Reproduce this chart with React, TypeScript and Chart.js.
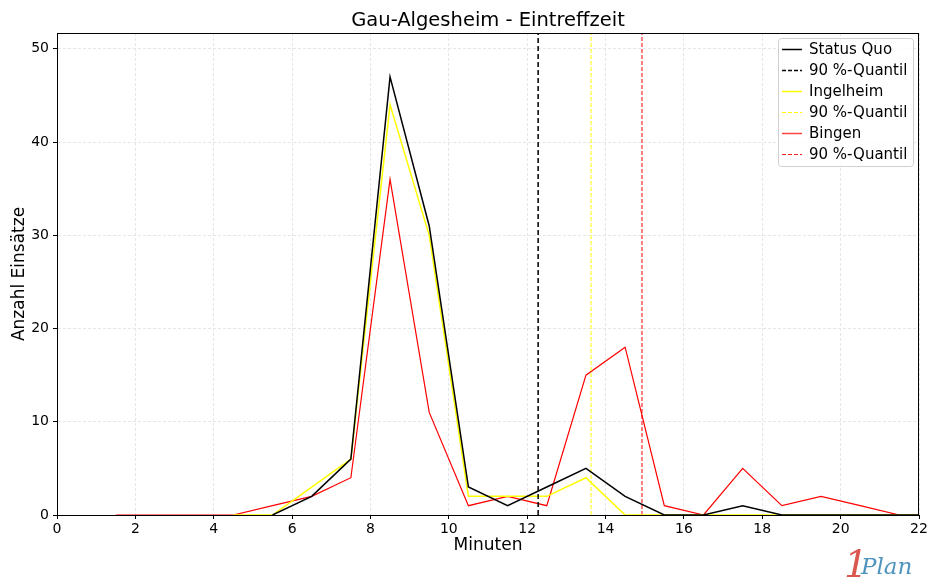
import React, { useEffect, useRef } from "react";
import { Chart, registerables } from "chart.js";

Chart.register(...registerables);

const minutes = [1.5, 2.5, 3.5, 4.5, 5.5, 6.5, 7.5, 8.5, 9.5, 10.5, 11.5, 12.5, 13.5, 14.5, 15.5, 16.5, 17.5, 18.5, 19.5, 20.5, 21.5, 22.5];
const statusQuo = [null, null, null, null, 0, 2, 6, 47, 31, 3, 1, 3, 5, 2, 0, 0, 1, 0, 0, 0, 0, 0];
const ingelheim = [null, null, null, 0, 0, 3, 6, 44, 30, 2, 2, 2, 4, 0, 0, 0, 0, 0, 0, 0, 0, 0];
const bingen = [0, 0, 0, 0, 1, 2, 4, 36, 11, 1, 2, 1, 15, 18, 1, 0, 5, 1, 2, 1, 0, 0];
const quantileStatusQuo = 12.28;
const quantileIngelheim = 13.63;
const quantileBingen = 14.93;
const xTicks = [0, 2, 4, 6, 8, 10, 12, 14, 16, 18, 20, 22];
const yTicks = [0, 10, 20, 30, 40, 50];
const yMax = 51.7;
const xMax = 22;

const FONT = '"DejaVu Sans", sans-serif';

const toPts = (ys: (number | null)[]) => minutes.map((x, i) => ({ x, y: ys[i] }));
const vline = (x: number) => [{ x, y: 0 }, { x, y: yMax }];

const legendItems = [
  { label: "Status Quo", color: "#000000", dash: [] as number[], width: 1.5 },
  { label: "90 %-Quantil", color: "#000000", dash: [4, 2], width: 1.5 },
  { label: "Ingelheim", color: "#ffff00", dash: [] as number[], width: 1.5 },
  { label: "90 %-Quantil", color: "#ffff00", dash: [4, 2], width: 1 },
  { label: "Bingen", color: "#ff4444", dash: [] as number[], width: 1.5 },
  { label: "90 %-Quantil", color: "#ff2222", dash: [4, 2], width: 1 },
];

const decorPlugin = {
  id: "decor",
  afterDraw(chart: any) {
    const { ctx, chartArea } = chart;
    const { left, right, top, bottom } = chartArea;
    ctx.save();
    // frame
    ctx.strokeStyle = "#000";
    ctx.lineWidth = 1;
    ctx.setLineDash([]);
    ctx.strokeRect(left + 0.5, top + 0.5, right - left - 1, bottom - top);
    // title
    ctx.fillStyle = "#000";
    ctx.textAlign = "center";
    ctx.textBaseline = "middle";
    ctx.font = `19.5px ${FONT}`;
    ctx.fillText("Gau-Algesheim - Eintreffzeit", (left + right) / 2, 21);
    // x label
    ctx.font = `17px ${FONT}`;
    ctx.fillText("Minuten", (left + right) / 2, 546);
    // y label
    ctx.save();
    ctx.translate(20, (top + bottom) / 2);
    ctx.rotate(-Math.PI / 2);
    ctx.fillText("Anzahl Einsätze", 0, 0);
    ctx.restore();
    // legend
    const lx = 778.5, ly = 38.5, lw = 135, lh = 128;
    ctx.beginPath();
    const r = 3;
    ctx.moveTo(lx + r, ly);
    ctx.lineTo(lx + lw - r, ly);
    ctx.quadraticCurveTo(lx + lw, ly, lx + lw, ly + r);
    ctx.lineTo(lx + lw, ly + lh - r);
    ctx.quadraticCurveTo(lx + lw, ly + lh, lx + lw - r, ly + lh);
    ctx.lineTo(lx + r, ly + lh);
    ctx.quadraticCurveTo(lx, ly + lh, lx, ly + lh - r);
    ctx.lineTo(lx, ly + r);
    ctx.quadraticCurveTo(lx, ly, lx + r, ly);
    ctx.closePath();
    ctx.fillStyle = "rgba(255,255,255,0.8)";
    ctx.fill();
    ctx.strokeStyle = "#d0d0d0";
    ctx.lineWidth = 1;
    ctx.stroke();
    ctx.font = `15px ${FONT}`;
    ctx.textAlign = "left";
    ctx.textBaseline = "middle";
    legendItems.forEach((it, i) => {
      const cy = Math.round(49 + i * 20.9) + 0.5;
      ctx.strokeStyle = it.color;
      ctx.lineWidth = it.width;
      ctx.setLineDash(it.dash);
      ctx.beginPath();
      ctx.moveTo(782, cy);
      ctx.lineTo(802, cy);
      ctx.stroke();
      ctx.setLineDash([]);
      ctx.fillStyle = "#000";
      ctx.fillText(it.label, 809, cy + 0.5);
    });
    // logo
    ctx.textBaseline = "alphabetic";
    ctx.font = `italic 38px "DejaVu Serif", serif`;
    ctx.fillStyle = "#d9574f";
    ctx.fillText("1", 844, 577);
    ctx.font = `italic 23px "DejaVu Serif", serif`;
    ctx.fillStyle = "#4f94bd";
    ctx.fillText("Plan", 861, 574);
    ctx.restore();
  },
};

export default function App() {
  const ref = useRef<HTMLCanvasElement | null>(null);
  useEffect(() => {
    if (!ref.current) return;
    const common = { pointRadius: 0, fill: false, tension: 0, spanGaps: false };
    const chart = new Chart(ref.current, {
      type: "line",
      data: {
        datasets: [
          { ...common, label: "Status Quo", data: toPts(statusQuo), borderColor: "#000000", borderWidth: 1.5, order: 1 },
          { ...common, label: "90 %-Quantil", data: vline(quantileStatusQuo), borderColor: "#000000", borderWidth: 1.5, borderDash: [5, 3], order: 2 },
          { ...common, label: "Ingelheim", data: toPts(ingelheim), borderColor: "#ffff00", borderWidth: 1.5, order: 3 },
          { ...common, label: "90 %-Quantil", data: vline(quantileIngelheim), borderColor: "#ffff00", borderWidth: 1, borderDash: [4, 2], order: 4 },
          { ...common, label: "Bingen", data: toPts(bingen), borderColor: "#ff0000", borderWidth: 1.2, order: 5 },
          { ...common, label: "90 %-Quantil", data: vline(quantileBingen), borderColor: "#ff0000", borderWidth: 1, borderDash: [4, 2], order: 6 },
        ],
      },
      options: {
        animation: false,
        responsive: false,
        layout: { padding: { left: 0, right: 11, top: 33, bottom: 0 } },
        plugins: { legend: { display: false }, title: { display: false }, tooltip: { enabled: false } },
        scales: {
          x: {
            type: "linear",
            min: 0,
            max: xMax,
            afterFit: (s: any) => { s.height = 68; },
            afterBuildTicks: (s: any) => { s.ticks = xTicks.map((v) => ({ value: v })); },
            ticks: { color: "#000", font: { family: FONT, size: 14 }, padding: 2, maxRotation: 0 },
            grid: { color: "#e6e6e6", tickColor: "#000", tickLength: 4, lineWidth: 1 },
            border: { display: true, color: "#000", dash: [3, 2] },
          },
          y: {
            type: "linear",
            min: 0,
            max: yMax,
            afterFit: (s: any) => { s.width = 57; },
            afterBuildTicks: (s: any) => { s.ticks = yTicks.map((v) => ({ value: v })); },
            ticks: { color: "#000", font: { family: FONT, size: 14 }, padding: 4 },
            grid: { color: "#e6e6e6", tickColor: "#000", tickLength: 4, lineWidth: 1 },
            border: { display: true, color: "#000", dash: [3, 2] },
          },
        },
      },
      plugins: [decorPlugin],
    } as any);
    return () => chart.destroy();
  }, []);
  return (
    <div style={{ position: "absolute", left: 0, top: 0, width: 930, height: 583, background: "#fff" }}>
      <canvas ref={ref} width={930} height={583} style={{ width: 930, height: 583 }} />
    </div>
  );
}
